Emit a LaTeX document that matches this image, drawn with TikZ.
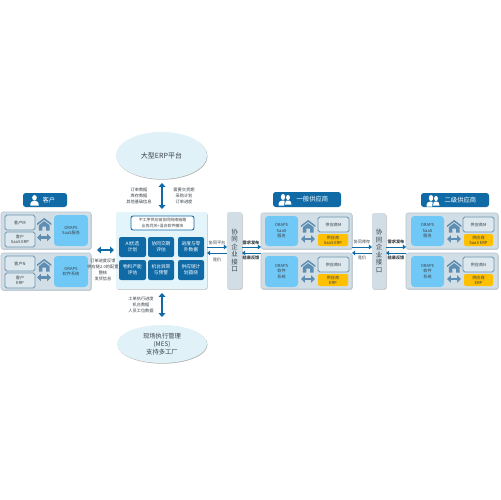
\documentclass[tikz,border=0pt]{standalone}
\usepackage{fontspec}
\setmainfont{Noto Sans CJK SC}
\usetikzlibrary{shadows,arrows.meta,shapes.geometric}
\definecolor{panelc}{HTML}{D2DEE6}
\definecolor{panelb}{HTML}{B4C6D3}
\definecolor{boxb}{HTML}{6F95AE}
\definecolor{boxf}{HTML}{DCE7EE}
\definecolor{oraps}{HTML}{70C8F6}
\definecolor{deep}{HTML}{0F6AA6}
\definecolor{ell}{HTML}{E0F1F8}
\definecolor{centerc}{HTML}{E4F4FB}
\definecolor{gold}{HTML}{FFC000}
\definecolor{icon}{HTML}{5E8FB2}
\definecolor{ink}{HTML}{3A4248}
\newcommand\smalltext{\fontsize{2.35}{3.1}\selectfont}
\newcommand\bx[7]{% name x1 y1 x2 y2 style text
  \pgfmathsetlengthmacro\bxw{(#4-#2)*0.02cm}
  \pgfmathsetlengthmacro\bxh{(#5-#3)*0.02cm}
  \node[#6,minimum width=\bxw,minimum height=\bxh] (#1) at ({(#2+#4)/2},{(#3+#5)/2}) {#7};}
\newcommand\home[2]{% left x, top y
  \begin{scope}[shift={(#1,#2)},scale=.9]
    \fill[icon] (0,6) -- (8,0) -- (16,6) -- (16,8) -- (8,2) -- (0,8) -- cycle;
    \fill[icon] (2,8) -- (8,3.5) -- (14,8) -- (14,14) -- (10,14) -- (10,9.5) -- (6,9.5) -- (6,14) -- (2,14) -- cycle;
  \end{scope}}
\newcommand\person[3]{% cx, cy, scale
  \begin{scope}[shift={(#1,#2)},scale=#3]
    \fill[white] (0,-3.2) ellipse (2.7 and 3.2);
    \fill[white] (-5,6) .. controls (-5,1.5) and (-3,1) .. (-1.5,0.5) -- (1.5,0.5) .. controls (3,1) and (5,1.5) .. (5,6) -- cycle;
  \end{scope}}
\newcommand\twopeople[2]{% cx, cy
  \begin{scope}[shift={(#1,#2)}]
    \fill[white] (3,-2.5) ellipse (1.9 and 2.6);
    \fill[white] (0,4.5) .. controls (0,1.5) and (1,1) .. (2,.5) -- (4,.5) .. controls (5,1) and (6.5,1.5) .. (6.5,4.5) -- cycle;
    \fill[white] (-2,-3) ellipse (2.2 and 3);
    \fill[white] (-6.5,5.5) .. controls (-6.5,1.5) and (-5,1) .. (-3.2,.5) -- (-.8,.5) .. controls (.5,1) and (-.8,1.5) .. (-.8,5.5) -- cycle;
  \end{scope}}
\tikzset{
  x=0.02cm,y=-0.02cm,
  every node/.style={inner sep=0pt,outer sep=0pt,align=center,text=ink,font=\smalltext},
  softshadow/.style={drop shadow={shadow xshift=0.3pt,shadow yshift=-0.4pt,opacity=.5,fill=black!60}},
  panelbox/.style={draw=panelb,line width=.3pt,fill=panelc,rounded corners=1.2pt,softshadow},
  centerbox/.style={fill=centerc,rounded corners=1.2pt,softshadow},
  greybox/.style={draw=boxb,line width=.45pt,fill=boxf,rounded corners=1pt},
  headbox/.style={draw=deep,line width=.5pt,fill=white,rounded corners=1.2pt,font=\fontsize{2.25}{3.1}\selectfont},
  orapsbox/.style={fill=oraps,rounded corners=2pt},
  goldbox/.style={fill=gold,rounded corners=.8pt},
  cell/.style={fill=deep,rounded corners=1.2pt,text=white,font=\fontsize{2.7}{3.5}\selectfont},
  badge/.style={fill=deep,rounded corners=1.5pt,text=white,font=\fontsize{3.6}{4.2}\selectfont},
  cloud/.style={ellipse,fill=ell,softshadow},
  barbox/.style={fill=panelc,rounded corners=1.2pt,softshadow,font=\fontsize{3.7}{4.3}\selectfont},
  bigarrow/.style={deep,line width=.9pt,{Triangle[length=2.2pt,width=3.8pt]}-{Triangle[length=2.2pt,width=3.8pt]}},
  iconarrow/.style={icon,line width=1.2pt,{Triangle[length=2.2pt,width=4.2pt]}-{Triangle[length=2.2pt,width=4.2pt]}},
  flow/.style={deep,line width=.45pt,-{Triangle[length=1.8pt,width=2.6pt]}},
  lab/.style={font=\fontsize{2.4}{3.35}\selectfont},
  boldlab/.style={font=\fontsize{2.4}{3.35}\selectfont\bfseries},
}
\begin{document}
\begin{tikzpicture}
\useasboundingbox (0,0) rectangle (500,500);
\fill[white] (0,0) rectangle (500,500);
% ellipses
\node[cloud,minimum width=1.82cm,minimum height=.94cm,font=\fontsize{4}{5}\selectfont] (erp) at (161.5,155.5) {大型ERP平台};
\node[cloud,minimum width=1.8cm,minimum height=.76cm,font=\fontsize{3.6}{4.5}\selectfont] (mes) at (162,344) {现场执行管理\\(MES)\\支持多工厂};
% badges
\bx{bc}{23}{193}{67}{207}{badge}{\hspace{4.5pt}客户}
\bx{bs}{273}{192}{341}{207}{badge}{\hspace{6.2pt}一般供应商}
\bx{bt}{421}{193}{489}{207}{badge}{\hspace{6.2pt}二级供应商}
\person{34.5}{200.5}{.85}
\twopeople{285}{200}
\twopeople{433}{201}
% client panels
\bx{cp1}{1}{212}{91}{249}{panelbox}{}
\bx{cp2}{1}{253}{91}{290}{panelbox}{}
\bx{cm}{5}{215}{35}{230}{greybox}{客户M}
\bx{ce1}{5}{232}{35}{247}{greybox}{客户\\SaaS ERP}
\bx{co1}{54}{215}{88}{246}{orapsbox}{ORAPS\\SaaS服务}
\bx{cn}{5}{256}{35}{271}{greybox}{客户N}
\bx{ce2}{5}{273}{35}{288}{greybox}{客户\\ERP}
\bx{co2}{54}{256}{88}{287}{orapsbox}{ORAPS\\软件系统}
\home{37}{218}
\home{37}{259}
\coordinate (ia1) at (37,237.5); \coordinate (ib1) at (51,237.5);
\coordinate (ia2) at (37,277.5); \coordinate (ib2) at (51,277.5);
\draw[iconarrow] (ia1) -- (ib1);
\draw[iconarrow] (ia2) -- (ib2);
% center
\bx{ctr}{116}{212}{207}{289}{centerbox}{}
\bx{hd}{131}{216}{194}{230}{headbox}{不工序供应链协同网络链路\\业务同关+混合软件模块}
\bx{c11}{119}{237}{146}{257}{cell}{AI优选\\计划}
\bx{c12}{148}{237}{174}{257}{cell}{协同交期\\评估}
\bx{c13}{178}{237}{204}{257}{cell}{进度与零\\外数据}
\bx{c21}{119}{260}{146}{280}{cell}{物料产能\\评估}
\bx{c22}{148}{260}{174}{280}{cell}{机台异常\\与预警}
\bx{c23}{178}{260}{204}{280}{cell}{供应链计\\划圆绕}
% bars
\bx{bar1}{227}{212}{242}{289}{barbox}{协\\同\\企\\业\\接\\口}
\bx{bar2}{372}{213}{386}{289}{barbox}{协\\同\\企\\业\\接\\口}
% supplier panels
\bx{sp1}{261}{213}{352}{249}{panelbox}{}
\bx{sp2}{261}{253}{352}{289}{panelbox}{}
\bx{so1}{265}{216}{298}{246}{orapsbox}{ORAPS\\SaaS\\服务}
\bx{so2}{265}{256}{298}{287}{orapsbox}{ORAPS\\软件\\系统}
\bx{sm}{318}{217}{349}{232}{greybox}{供应商M}
\bx{sg1}{318}{234}{348}{246}{goldbox}{供应商\\SaaS ERP}
\bx{sn}{318}{257}{349}{272}{greybox}{供应商N}
\bx{sg2}{318}{274}{348}{286}{goldbox}{供应商\\ERP}
\home{301}{220}
\home{301}{260}
\coordinate (ia3) at (301,239); \coordinate (ib3) at (315,239);
\coordinate (ia4) at (301,279); \coordinate (ib4) at (315,279);
\draw[iconarrow] (ia3) -- (ib3);
\draw[iconarrow] (ia4) -- (ib4);
\bx{tp1}{406}{213}{498}{249}{panelbox}{}
\bx{tp2}{406}{253}{498}{289}{panelbox}{}
\bx{to1}{411}{216}{444}{246}{orapsbox}{ORAPS\\SaaS\\服务}
\bx{to2}{411}{256}{444}{287}{orapsbox}{ORAPS\\软件\\系统}
\bx{tm}{463}{217}{494}{232}{greybox}{供应商M}
\bx{tg1}{464}{234}{493}{246}{goldbox}{供应商\\SaaS ERP}
\bx{tn}{463}{257}{494}{272}{greybox}{供应商N}
\bx{tg2}{464}{274}{493}{286}{goldbox}{供应商\\ERP}
\home{447}{220}
\home{447}{260}
\coordinate (ia5) at (447,239); \coordinate (ib5) at (461,239);
\coordinate (ia6) at (447,279); \coordinate (ib6) at (461,279);
\draw[iconarrow] (ia5) -- (ib5);
\draw[iconarrow] (ia6) -- (ib6);
% connectors
\coordinate (up1) at (162,183); \coordinate (up2) at (162,209);
\coordinate (dn1) at (162,293); \coordinate (dn2) at (162,317);
\coordinate (lf1) at (97,250); \coordinate (lf2) at (114,250);
\draw[bigarrow] (up1) -- (up2);
\draw[bigarrow] (dn1) -- (dn2);
\draw[bigarrow] (lf1) -- (lf2);
\draw[flow] (ctr.east |- 0,247) -- (bar1.west |- 0,247);
\draw[flow] (bar1.west |- 0,253) -- (ctr.east |- 0,253);
\draw[flow] (bar1.east |- 0,247) -- (sp1.west |- 0,247);
\draw[flow] (sp2.west |- 0,253) -- (bar1.east |- 0,253);
\draw[flow] (sp1.east |- 0,247) -- (bar2.west |- 0,247);
\draw[flow] (bar2.west |- 0,253) -- (sp1.east |- 0,253);
\draw[flow] (bar2.east |- 0,247) -- (tp1.west |- 0,247);
\draw[flow] (tp2.west |- 0,253) -- (bar2.east |- 0,253);
% labels
\node[lab] (l1) at (139,196) {订单数据\\库存数据\\其他基础信息};
\node[lab] (l2) at (184,196) {需要交货期\\采购计划\\订单进度};
\node[lab] (l3) at (141,305) {工单执行进度\\机台数据\\人员工位数据};
\node[lab] (l4) at (103,270) {订单进度反馈\\供应链2.0的配置\\整核\\发货信息};
\node[lab] (l5) at (217,243) {协同平台};
\node[lab] (l6) at (217,260) {竞价};
\node[boldlab] (l7) at (251,243) {需求发布};
\node[boldlab] (l8) at (251,258) {结果反馈};
\node[lab] (l9) at (362,242) {协同库存};
\node[lab] (l10) at (362,258) {竞价};
\node[boldlab] (l11) at (396,242) {需求发布};
\node[boldlab] (l12) at (396,258) {结果反馈};
\end{tikzpicture}
\end{document}
